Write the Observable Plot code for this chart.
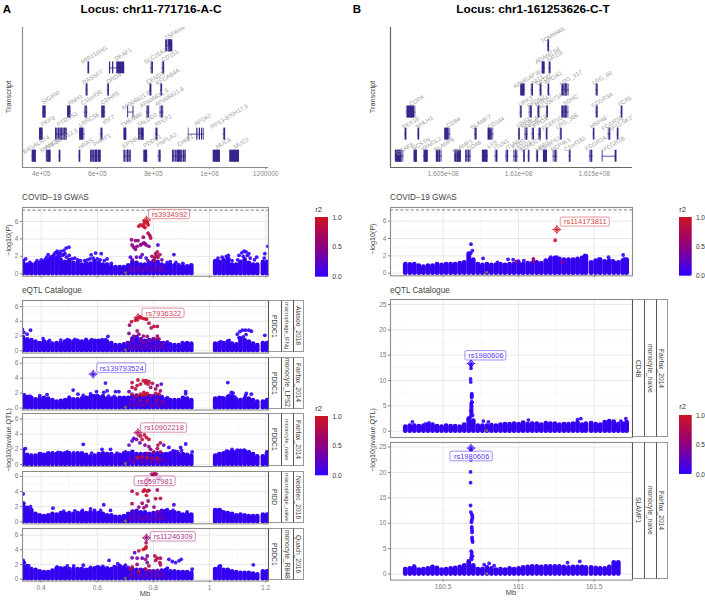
<!DOCTYPE html>
<html><head><meta charset="utf-8">
<script src="https://cdn.jsdelivr.net/npm/d3@7"></script>
<script src="https://cdn.jsdelivr.net/npm/@observablehq/plot@0.6"></script>
<style>
html,body{margin:0;padding:0;background:#fff}
#c{position:relative;width:705px;height:600px;overflow:hidden;font-family:"Liberation Sans",Arial,sans-serif}
#c svg{position:absolute;background:transparent;overflow:visible;max-width:none}
.t{position:absolute;white-space:nowrap;line-height:1.1}
.s{position:absolute;box-sizing:border-box;border-left:1.2px solid #555;border-top:1.2px solid #999;border-bottom:1.2px solid #999;display:flex;align-items:center;justify-content:center;overflow:hidden;color:#444;font-size:6.7px}
.s span{writing-mode:vertical-rl;white-space:nowrap}
</style></head><body><div id="c"></div>
<script>
// ---------- transcripts: [name,row,start,end,labelX,labelRow] ----------
const genesA=[["B4GALNT4",1,368,383,382,1.53],["ANO9",1,418,436,439,1.56],["RP13-317D12.3",1,463,469,463,1.71],["HRAS",1,534,540,559,1.56],["PHRF1",1,576,614,617,1.74],["EPS8L2",1,695,721,724,1.68],["PDDC1",1,766,780,796,1.69],["PNPLA2",1,817,828,846,1.74],["CHID1",1,868,916,914,1.71],["MUC6",1,1013,1039,1049,1.59],["MUC2",1,1072,1106,1113,1.59],
["PKP3",2,394,407,424,2.59],["PTDSS2",2,451,493,493,2.69],["LRRC56",2,537,556,570,2.65],["IRF7",2,611,620,640,2.65],["TMEM80",2,695,705,721,2.65],["TALDO1",2,747,767,778,2.65],["RPLP2",2,807,816,835,2.62],["AP2A2",2,925,980,975,2.65],["RP13-870H17.3",2,1049,1057,1070,2.8],
["SIGIRR",3,406,419,434,3.66],["RNH1",3,494,506,521,3.55],["C11orf35",3,554,566,579,3.66],["CDHR5",3,616,630,645,3.64],["AP006621.9",3,709,730,737,3.52],["AP006621.5",3,775,787,802,3.63],["AP006621.6",3,823,837,857,3.7],
["RASSF7",4,559,566,583,4.58],["DRD4",4,636,642,659,4.53],["CEND1",4,786,794,806,4.55],["EFCAB4A",4,825,832,851,4.6],
["MIR210HG",5,566,571,589,5.59],["DEAF1",5,644,698,692,5.61],["SLC25A22",5,791,800,812,5.58],["CD151",5,831,840,859,5.55],["TSPAN4",6,843,869,876,6.59]];
const intronGenesA=["AP2A2","AP006621.9","DEAF1"];
const exonsA=[[1,369,382],[1,421,425],[1,430,434],[1,577,581],[1,585,589],[1,593,600],[1,604,613],[1,696,699],[1,708,711],[1,717,720],[1,767,778],[1,869,873],[1,880,883],[1,887,893],[1,898,902],[1,908,911],[1,914,916],[1,1014,1038],[1,1073,1106],[2,395,406],[2,452,456],[2,462,466],[2,472,476],[2,482,486],[2,489,492],[2,538,548],[2,696,704],[2,748,752],[2,758,766],[2,925,926],[2,955,958],[2,964,967],[2,972,974],[2,978,980],[3,407,411],[3,495,505],[3,617,622],[3,709,711],[3,728,730],[5,644,647],[5,655,658],[5,670,697],[6,845,849],[6,855,868]];
const genesB=[["DCAF8",1,160.184,160.242,160.246,1.33],["NCSTN",1,160.308,160.33,160.354,1.56],["VANGL2",1,160.37,160.403,160.42,1.56],["SLAMF8",1,160.454,160.496,160.507,1.53],["SLAMF1",1,160.577,160.621,160.628,1.45],["CD48",1,160.65,160.688,160.705,1.48],["LY9",1,160.76,160.8,160.824,1.54],["ITLN1",1,160.844,160.864,160.886,1.54],["ITLN2",1,160.915,160.935,160.961,1.53],["F11R",1,160.966,160.997,160.997,1.56],["TSTD1",1,161.032,161.041,161.028,1.45],["KLHDC9",1,161.063,161.072,161.081,1.53],["UFC1",1,161.118,161.131,161.158,1.45],["NDUFS2",1,161.164,161.191,161.206,1.56],["PCP4L1",1,161.228,161.259,161.279,1.53],["C1orf192",1,161.334,161.345,161.372,1.56],["FCGR2A",1,161.469,161.493,161.511,1.59],["FCGR2B",1,161.555,161.65,161.632,1.56],
["PEX19",2,160.246,160.259,160.286,2.51],["NHLH1",2,160.332,160.343,160.376,2.54],["CD84",2,160.511,160.551,160.568,2.54],["SLAMF7",2,160.708,160.725,160.749,2.54],["CD244",2,160.798,160.836,160.851,2.51],["USF1",2,160.999,161.008,161.032,2.54],["PVRL4",2,161.041,161.063,161.07,2.54],["B4GALT3",2,161.089,161.105,161.109,2.54],["PPOX",2,161.131,161.151,161.147,2.54],["FCER1G",2,161.182,161.191,161.224,2.51],["LRG_356",2,161.275,161.286,161.319,2.59],["HSPA6",2,161.493,161.502,161.529,2.54],["FCGR2C",2,161.593,161.61,161.621,2.51],["RP11-5K23.11",2,161.652,161.661,161.703,2.59],
["COPA",3,160.257,160.321,160.326,3.52],["URK1",3,161.01,161.021,161.047,3.49],["PFDN2",3,161.07,161.092,161.116,3.48],["HSPA7",3,161.125,161.14,161.164,3.52],["AL590714.1",3,161.184,161.195,161.224,3.55],["SDHC",3,161.284,161.334,161.345,3.55],["FCGR3A",3,161.511,161.526,161.553,3.55],["FCRLA",3,161.677,161.688,161.716,3.55],
["ARHGAP30",4,161.014,161.045,161.058,4.5],["NIT1",4,161.083,161.098,161.125,4.46],["DEDD",4,161.14,161.153,161.164,4.46],["APOA2",4,161.193,161.204,161.228,4.55],["LRG_317",4,161.284,161.337,161.345,4.55],["LRG_60",4,161.511,161.526,161.553,4.55],
["ADAMTS4",5,161.156,161.176,161.191,5.56],["NR1I3",5,161.2,161.213,161.239,5.53],["TOMM40L",6,161.191,161.204,161.228,6.5]];
const intronGenesB=["FCGR2B"];
const exonsB=[[1,160.186,160.226],[1,160.31,160.328],[1,160.378,160.4],[1,160.458,160.47],[1,160.58,160.59],[1,160.595,160.605],[1,160.61,160.62],[1,160.652,160.658],[1,160.762,160.795],[1,161.166,161.19],[1,161.555,161.558],[1,161.64,161.65],[2,160.513,160.53],[2,160.8,160.815],[3,160.265,160.31],[3,161.29,161.3],[3,161.31,161.32],[4,161.016,161.04],[4,161.29,161.3],[4,161.31,161.32],[5,161.158,161.172]];

// ---------- dense lower band of the Manhattan plots: x positions and tops ----------
const bandXA=[.335,.35,.365,.38,.395,.41,.425,.44,.455,.47,.485,.5,.515,.53,.545,.56,.575,.59,.605,.62,.635,.65,.665,.68,.695,.71,.725,.74,.755,.77,.785,.8,.815,.83,.845,.86,.875,.89,.905,.92,.935,1.02,1.035,1.05,1.065,1.08,1.095,1.11,1.125,1.14,1.155,1.17,1.19,1.205];
const bandGwasA=[1.4,1,1,1.1,1.2,1.3,1.4,1.6,1.6,1.5,1.3,1.5,1.2,1.2,1,1.1,1.1,1.4,1.2,1,1,.8,.7,.7,.7,.9,1.3,1.2,1,1,1.2,1.4,1.3,1,.9,1,.9,.9,.8,.8,.9,1.4,1.3,1.5,1.6,1,1,1.3,1.6,1.2,1,1,1.3,1.3];
const bandAlasoo=[1.8,1.5,1.4,1.2,1,1.2,1.1,.9,1,1,1.2,1.3,1.2,1.3,1.2,1.3,1.2,1.3,1.3,1.3,1.2,1,.7,.7,.8,1,1.6,1.8,1.5,1.3,1.4,1.5,1.4,1,.9,.8,.7,.7,.9,1,.9,.9,1,1,1.2,.9,.8,1.6,1.4,1.2,.9,.7,1,1];
const bandLps=[1.6,1.4,1.3,1.1,1.2,1.3,1.2,1,.8,.9,1,1.2,1.1,1.1,1.2,1.3,1.4,1.5,1.4,1.5,1.2,1.2,1.2,1.3,1.3,1.3,1.5,1.6,1.4,1.5,1.5,1.5,1.5,1.4,1.1,1,1,1,1.3,1.2,1,1.2,1.3,1.2,1.4,1.5,1.1,1,1.2,1.2,1,.8,.8,1];
const bandNaive=[1.7,1.2,1.1,1.1,1.3,1.2,1.4,1.4,1.3,1.4,1.4,1.4,1.2,1.4,1.4,1.2,1,1.1,1.3,1.4,1.3,1.3,1.1,1.2,1.4,1.4,1.6,1.3,1.3,1.3,1.3,1.4,1.4,1.3,1.3,1.4,1.6,1.3,1.3,1.2,1.1,1.1,1.3,1.4,1.6,1.6,1.6,1.7,1.7,1.5,1.3,1,1,1.5];
const bandNedelec=[2.3,1.8,1.5,1,.8,.7,.8,1,.9,1.1,1,1.1,1,1.1,1.2,1.1,1.2,1.2,1.1,1,.8,.8,.6,.6,.7,1,1.3,1.4,1.2,1.2,1,1.1,1.2,1.4,1.4,1.2,1.2,1.1,.9,1,.9,1.5,1.5,1.2,1.1,1,.8,.9,.8,.7,.7,.7,.9,.9];
const bandQuach=[2.2,1.7,1.3,1.2,1,.9,.9,1.1,1.4,1.4,1.4,1.3,1.3,1.3,1.3,1.2,1.3,1.4,1.5,1.4,1.4,1.3,1.5,1.7,1.5,1.3,1.3,1.2,1.2,1.2,1,1,1,1.1,1.2,1,1,.9,.9,.9,.8,1.3,1.6,1.2,1.2,1,.9,.8,.8,.8,.7,.6,1,1];
const bandXB=[160.25,160.28,160.31,160.34,160.37,160.4,160.43,160.46,160.49,160.52,160.55,160.58,160.61,160.64,160.67,160.7,160.73,160.76,160.79,160.82,160.85,160.88,160.91,160.94,160.97,161,161.03,161.06,161.09,161.12,161.15,161.18,161.21,161.24,161.27,161.3,161.33,161.36,161.39,161.42,161.445,161.48,161.51,161.54,161.57,161.6,161.63,161.66,161.69,161.715];
const bandGwasB=[1,.95,1,.8,.7,.8,.8,1,.9,1,1,1,1.1,1.2,2.2,1.5,1,.9,1,.9,.9,1,.9,1,1,1.1,1,1.1,1.1,1.2,1.1,1.4,1.6,1.7,1.6,1.5,1.5,1.5,1.6,1.7,1.9,1.2,1.4,1.5,1.3,1.4,1.2,1.2,1.4,1.5];
const bandCd48=[.8,1,1,.9,1,1.1,1.2,.9,.8,1,.9,.9,.8,1.2,2.4,2,1,1,1,1.1,1,1.2,1.3,1.3,1.4,1.3,1.6,1.3,1.4,1.4,1.2,1.5,1.4,1.4,1.2,1.3,1.3,1.4,1.6,1.2,1.4,1.5,1.3,1.2,1.7,1.9,1.8,1.3,1.4,1.7];
const bandSlamf1=[.9,1,1.2,.8,.9,1,1.3,1.1,.8,.9,1,1.1,1.3,1.6,2.4,1.6,.9,.9,1.2,1,.8,.9,.8,1,.9,1,1.2,1.3,1.4,1.4,1.3,1.4,1.4,1.4,1.4,1.3,1.2,1.3,1.3,1.3,1.2,1.2,1.1,1,1,1.3,2.2,2.2,null,null];

// ---------- individually visible points: [x, -log10 p, r2] ----------
const midTintA=[[.715,.5,.3],[.73,.3,.4],[.745,.6,.35],[.76,.35,.4],[.775,.55,.35],[.79,.3,.4],[.805,.55,.35],[.82,.35,.4],[.835,.5,.3],[.72,.8,.3],[.75,.85,.3],[.78,.85,.3],[.81,.85,.35],[.83,.8,.3],[.7,.3,.2],[.85,.3,.2]];
const ptsGwasA=[[.748,5.46,.95],[.754,5.6,.95],[.766,5.7,.95],[.768,6,.95],[.778,5.85,.95],[.764,5.45,.95],[.781,5.6,.95],[.77,5.3,.95],[.781,4.65,.75],[.787,4.4,.7],[.79,4.1,.7],[.764,4.2,.5],[.722,3.9,.5],[.736,3.8,.5],[.745,3.8,.5],[.754,3.3,.45],[.766,3.55,.45],[.774,3.3,.45],[.784,3.15,.45],[.742,3.15,.5],[.73,3.05,.45],[.724,3.3,.45],[.736,2.8,.45],[.758,3.4,.45],[.77,3.45,.45],[.816,3.3,.1],[.808,2.3,.7],[.814,2.5,.75],[.823,2.2,.7],[.804,1.8,.75],[.816,1.9,.7],[.802,1.5,.7],[.81,2.05,.75],[.499,3.05,0],[.489,2.95,0],[.481,2.67,0],[.457,2.6,0],[.467,2.3,0],[.445,2.17,0],[.433,1.9,0],[.415,1.65,0],[.475,2.1,0],[.47,2.55,0],[.45,2.4,0],[.46,2,0],[.578,2.17,0],[.594,2.37,0],[.614,2.3,0],[.574,1.7,0],[.635,1.7,0],[.718,1.9,.1],[.754,1.9,.1],[.774,1.8,.1],[.873,2.2,0],[.849,1.3,0],[1.027,1.5,0],[1.067,2.1,0],[1.069,1.7,0],[1.123,2.6,0],[1.14,2.3,0],[1.105,2.1,0],[1.115,2.4,0],[1.13,2.5,0],[1.168,1.9,0],[1.197,2.3,0],[1.208,3.15,0],
[.345,1.7,0],[.36,1.3,0],[.385,1.5,0],[.4,1.6,0],[.405,1.3,0],[.42,1.9,0],[.425,2.2,0],[.43,1.7,0],[.44,2,0],[.45,1.9,0],[.455,2.4,0],[.46,2.3,0],[.465,1.9,0],[.48,2.2,0],[.485,2.3,0],[.49,1.9,0],[.5,2.1,0],[.51,1.7,0],[.52,1.8,0],[.53,1.6,0],[.54,1.5,0],[.555,1.5,0],[.565,1.6,0],[.585,1.8,0],[.6,1.7,0],[.61,1.6,0],[.625,1.5,0],[.65,1.2,0],[.86,1.4,0],[.88,1.3,0],[.905,1.2,0],[1.03,1.8,0],[1.045,1.9,0],[1.06,2,0],[1.08,1.5,0],[1.1,1.6,0],[1.12,2,0],[1.135,2.1,0],[1.145,1.8,0],[1.16,1.6,0],[1.195,1.8,0],[.725,1.6,.25],[.74,1.9,.3],[.76,2.2,.3],[.78,1.5,.35],[.795,2,.55],[.83,1.6,.3]];
const ptsAlasoo=[[.752,4.6,.95],[.76,4.45,.95],[.768,4.35,.95],[.775,4.28,.95],[.74,4.3,.95],[.722,3.95,.9],[.736,4.15,.9],[.784,3.75,.85],[.792,3.1,.8],[.802,3.3,.8],[.814,3.3,.8],[.715,3.47,.6],[.742,2.7,.55],[.748,2.25,.6],[.73,2,.5],[.713,2.35,.4],[.764,2,.5],[.778,1.95,.6],[.814,2,.6],[.82,1.6,.7],[.802,1.65,.6],[.784,1.35,.5],[.754,1.5,.45],[.724,1.35,.35],[.707,1.1,.3],[.766,1.1,.4],[.837,1.1,.3],[.333,2.9,0],[.338,2.5,0],[.362,2.8,0],[.35,2.25,0],[.638,1.95,0],[1.108,2.6,0],[1.117,2.8,0],[1.128,2.8,0],[1.14,2.8,0],[1.149,2.65,0],[1.099,2.25,0],[1.105,1.8,0],[1.197,2.1,0],[.407,1.65,0],[.493,1.5,0],[.6,1.35,0],[.617,1.5,0],[.903,1.1,0],[.43,1.4,0],[.47,1.45,0],[.52,1.55,0],[.56,1.55,0],[.58,1.5,0],[.63,1.5,0],[.85,1.2,0],[1.04,1.25,0],[1.07,1.4,0],[1.12,1.9,0],[1.13,2.2,0]];
const ptsLps=[[.629,3.33,0],[.514,2.4,0],[.597,2.2,0],[.635,2.3,0],[.623,2.1,0],[.665,2.2,0],[.677,2.2,0],[.421,1.8,0],[.395,1.65,0],[.531,1.85,0],[.576,1.9,0],[.713,2.2,.2],[.915,2.2,0],[.915,1.9,0],[1.065,3.4,0],[1.078,2.1,0],[1.084,2,0],[1.07,1.7,0],[1.131,1.95,0],[1.149,1.85,0],[1.128,1.65,0],[.745,3.75,.85],[.764,3.65,.9],[.774,3.65,.9],[.784,3.55,.9],[.781,3.2,.9],[.772,3.35,.85],[.754,3.2,.85],[.742,3,.8],[.724,2.75,.75],[.736,2.55,.8],[.79,2.75,.6],[.814,3,.5],[.828,3.2,.2],[.808,2.55,.7],[.766,2.1,.85],[.778,1.95,.9],[.754,1.85,.9],[.742,1.65,.85],[.76,1.7,.9],[.772,1.75,.9],[.724,1.85,.8],[.808,1.95,.8],[.82,1.85,.7],[.79,1.65,.7],[.825,2.3,.55],[.796,3.3,.75],[.724,3.4,.8],[.73,1.2,.4],[.778,1,.5],[.814,1.1,.5],[.837,.9,.3],[.754,1,.45],[.55,1.7,0],[.58,1.65,0],[.6,1.7,0],[.64,1.6,0],[.66,1.55,0],[.34,1.75,0],[.36,1.6,0],[.5,1.45,0],[.85,1.4,0],[1.045,1.4,0],[1.09,1.5,0]];
const ptsNaive=[[.754,3.75,.85],[.768,3.9,.9],[.775,3.55,.9],[.784,3.3,.85],[.76,3.3,.85],[.74,3.3,.4],[.724,3.1,.2],[.73,3.45,.15],[.752,2.85,.3],[.77,2.55,.4],[.784,2.35,.5],[.825,2.85,.8],[.816,2.55,.8],[.837,2.55,.2],[.713,2.55,.3],[.814,2.1,.7],[.79,2,.45],[.802,1.65,.7],[.825,1.65,.6],[.778,1.45,.5],[.76,1,.9],[.742,.93,.85],[.778,.93,.85],[.796,.8,.6],[.814,.8,.7],[.55,2.65,0],[.617,2,0],[.647,2,0],[.344,2.1,0],[.338,2,0],[.516,1.55,0],[.493,1.65,0],[.398,1.4,0],[.855,2.25,0],[.897,2.25,0],[.915,2.7,0],[.938,1.65,0],[1.031,1.3,0],[1.08,2,0],[1.099,1.9,0],[1.123,1.9,0],[1.14,1.65,0],[1.205,1.65,0],[.87,1.8,0],[.885,1.7,.1],[.9,1.85,0],[.67,1.5,0],[.7,1.65,.1],[.46,1.6,0],[.58,1.5,0],[1.06,1.75,0],[1.11,1.85,0]];
const ptsNedelec=[[.796,6.2,.7],[.808,6.3,.65],[.814,5.7,.5],[.823,5.8,.3],[.778,5.7,.7],[.784,5.45,.8],[.775,4.95,.85],[.768,4.2,.95],[.778,4.05,.95],[.764,4.05,.95],[.724,4.05,.8],[.742,3.7,.8],[.775,3.5,.95],[.784,4.15,.7],[.814,4.2,.6],[.808,3.05,.85],[.825,3.1,.8],[.724,2.4,.7],[.76,2.45,.6],[.781,2.75,.55],[.748,1.95,.5],[.766,1.85,.6],[.775,2.1,.55],[.802,1.95,.5],[.873,2.25,.1],[.814,1.3,.4],[.825,1.35,.3],[.73,1.3,.3],[.336,3.7,0],[.338,2.45,0],[.34,1.95,0],[.362,2,0],[.623,2.25,0],[.612,1.5,0],[.442,1.8,0],[.576,1.7,0],[.547,1.5,0],[.647,1.5,0],[.92,1.3,0],[1.027,1.5,0],[1.039,1.5,0],[1.063,1.15,0],[.48,1.4,0],[.52,1.45,0],[.59,1.5,0],[.85,1.6,0],[.87,1.5,0]];
const ptsQuach=[[.774,4.95,.75],[.774,4.4,.95],[.772,4.2,.95],[.764,4.05,.95],[.748,3.85,.95],[.733,3.6,.2],[.724,2.9,.3],[.742,2.85,.4],[.76,2.85,.3],[.772,2.7,.55],[.778,2.25,.35],[.805,3.15,.8],[.814,2.85,.8],[.825,2.85,.7],[.808,2.55,.7],[.823,2.25,.8],[.825,1.95,.7],[.778,3.15,.3],[.742,2,.5],[.724,1.65,.8],[.718,1.35,.75],[.748,1.1,.85],[.772,1.35,.8],[.784,1.8,.75],[.79,1.1,.5],[.814,1.2,.4],[.855,2.7,.05],[.867,2.4,.05],[.879,2.25,.05],[.891,2.5,.05],[.899,2.7,.05],[.938,1.35,0],[.642,2.55,0],[.55,1.9,0],[.576,1.6,0],[.673,2.1,0],[.688,1.6,0],[1.039,1.8,0],[1.033,1.5,0],[1.156,1.95,0],[1.206,1.1,0],[.336,2.55,0],[.34,2.25,0],[.356,1.8,0],[.457,1.65,0],[.493,1.8,0],[.516,1.8,0],[.62,1.75,0],[.6,1.65,0],[.66,1.7,.05],[.7,1.9,.1],[.71,1.6,.15],[.85,1.5,0]];
const ptsGwasB=[[161.242,3.8,1],[160.685,3.35,0],[160.694,2.6,0],[160.683,2.3,0],[160.765,1.7,0],[160.964,1.55,0],[160.986,1.35,.55],[161.098,1.65,.55],[161.098,1.35,.5],[160.86,1.25,.1],[161.035,1.45,0],[161.213,1.85,0],[161.253,1.85,0],[161.29,1.3,.5],[161.438,2.05,0],[161.533,1.65,0],[161.595,1.85,0],[161.625,1.45,0],[161.692,2.1,0],[161.7,1.65,0],[160.93,1.6,0],[161.0,1.4,.1]];
const ptsCd48=[[160.685,13,0],[160.685,12.4,0],[160.682,10.3,0],[160.683,9.7,0],[160.69,7.4,0],[160.69,7.1,0],[160.69,6.9,0],[160.689,6.6,0],[160.69,5.8,0],[160.688,5.5,0],[160.692,5.7,0],[160.686,5.2,0],[160.69,4.9,0],[160.685,4.6,0],[160.69,4.3,0],[160.683,4,0],[160.69,3.7,0],[160.685,3.4,0],[160.695,3.1,0],[160.68,2.8,0],[160.297,1.85,0],[160.407,1.65,0],[160.385,1.45,0],[160.767,2,0],[160.8,1.85,0],[161.39,2.3,0],[161.412,2.5,0],[161.71,2.5,0],[161.677,2,0],[161.065,2.2,0]];
const ptsSlamf1=[[160.685,24.4,0],[160.685,22.5,0],[160.682,20.1,0],[160.682,18,0],[160.682,13.5,0],[160.684,12.2,0],[160.69,11.8,0],[160.694,11.4,0],[160.694,11,0],[160.69,10.6,0],[160.688,10.2,0],[160.69,9.3,0],[160.69,9,0],[160.692,8.6,0],[160.692,8.2,0],[160.692,7.2,0],[160.692,6.9,0],[160.694,6.6,0],[160.696,6.3,0],[160.686,4.5,0],[160.69,4.2,0],[160.688,3.8,0],[160.695,3.5,0],[160.685,3.2,0],[160.69,2.9,0],[160.805,2.1,0],[160.772,1.85,0],[160.838,1.65,0],[161.324,2.25,0],[161.405,2.5,0],[160.308,1.6,0],[160.43,1.45,0]];
// grey points without r2: [x,y]
const noR2A=[[.7,.12]], noR2B=[[160.789,.12]];

// ---------- lead variants and their labels ----------
const leadNames=["rs3934992","rs7936322","rs139793524","rs10902218","rs6597981","rs11246309","rs114173811","rs1980606","rs1980606"];
const leadX=[.775,.745,.585,.745,.802,.775,161.253,160.685,160.685];
const leadY=[6.15,4.5,4.53,4.19,6.34,5.63,5.04,13.35,24.8];
const leadR2=[.95,.9,.05,.7,.62,.55,1,0,0];
const boxX1=[.785,.761,.6,.756,.733,.79,161.279,160.648,160.549];
const boxX2=[.93,.911,.774,.92,.879,.951,161.604,160.919,160.829];
const boxY1=[6.26,4.46,4.67,4.19,4.71,5.13,5.38,13.95,22.2];
const boxY2=[7.33,5.72,5.96,5.42,5.99,6.4,6.42,15.8,24.1];

// ---------- ticks, strips, texts ----------
const xMajorA=[.4,.6,.8,1,1.2], xMinorA=[.5,.7,.9,1.1];
const xMajorB=[160.5,161,161.5], xMinorB=[160.25,160.75,161.25,161.75];
const yMajor6=[0,2,4,6], yMinor6=[1,3,5,7];
const yMajor25=[0,5,10,15,20,25], yMinor25=[2.5,7.5,12.5,17.5,22.5];
const transcriptTicksA=[400,600,800,1000,1200], transcriptLabelsA=["4e+05","6e+05","8e+05","1e+06","1200000"];
const transcriptTicksB=[160.5,161,161.5], transcriptLabelsB=["1.605e+08","1.61e+08","1.615e+08"];
const stripA=[["PDDC1","macrophage_IFNg","Alasoo_2018"],["PDDC1","monocyte_LPS2","Fairfax_2014"],["PDDC1","monocyte_naive","Fairfax_2014"],["PIDD","macrophage_naive","Nedelec_2016"],["PDDC1","monocyte_R848","Quach_2016"]];
const stripB=[["CD48","monocyte_naive","Fairfax_2014"],["SLAMF1","monocyte_naive","Fairfax_2014"]];

const FONT='"Liberation Sans",Arial,sans-serif';
const BLUE="#3300f0", INK="#35278a";
const colorScale={type:"linear",domain:[0,.5,1],range:["#3300ff","#90007f","#cf1520"]};
const root=document.getElementById("c");

function addText(txt,x,y,o={}){
  const d=document.createElement("div");d.className="t";d.textContent=txt;
  d.style.left=x+"px";d.style.top=y+"px";d.style.fontSize=(o.size||8)+"px";d.style.color=o.color||"#333";
  if(o.weight)d.style.fontWeight=o.weight;
  let tr="translate(-50%,-50%)";
  if(o.left)tr="translate(0,-50%)";
  if(o.rot)tr+=` rotate(${o.rot}deg)`;
  d.style.transform=tr;root.appendChild(d);
}
function place(svg,l,t){svg.style.left=l+"px";svg.style.top=t+"px";root.appendChild(svg);}

function manhattan(o){
  const mt=4,mb=14,ml=22;
  const idx=o.lead;
  const lead=[{x:leadX[idx],y:leadY[idx],r:leadR2[idx]}];
  const box=[{x1:boxX1[idx],x2:boxX2[idx],y1:boxY1[idx],y2:boxY2[idx],r:leadR2[idx],n:leadNames[idx]}];
  const band=o.bandX.map((x,i)=>[x,o.band[i]]).filter(d=>d[1]!=null);
  const svg=Plot.plot({
    width:o.right-o.left+ml,height:o.bottom-o.top+mt+mb,
    marginLeft:ml,marginRight:0,marginTop:mt,marginBottom:mb,
    style:{fontFamily:FONT,background:"transparent",overflow:"visible"},
    x:{domain:o.xDomain,axis:null},y:{domain:o.yDomain,axis:null},
    color:colorScale,
    marks:[
      Plot.ruleX(o.xMinor.filter(v=>v>o.xDomain[0]&&v<o.xDomain[1]),{stroke:"#f4f4f4",strokeWidth:.6}),
      Plot.ruleY(o.yMinor.filter(v=>v<o.yDomain[1]),{stroke:"#f4f4f4",strokeWidth:.6}),
      Plot.ruleX(o.xMajor,{stroke:"#e8e8e8",strokeWidth:1}),
      Plot.ruleY(o.yMajor,{stroke:"#e8e8e8",strokeWidth:1}),
      o.dashed?Plot.ruleY([7.3],{stroke:"#555",strokeDasharray:"3,2.2",strokeWidth:.8}):null,
      Plot.ruleX(band,{x:d=>d[0],y1:0,y2:d=>d[1],stroke:BLUE,strokeWidth:o.bandW||4.6,strokeLinecap:"round",clip:true}),
      Plot.dot(o.tint||[],{x:d=>d[0],y:d=>d[1],fill:d=>d[2],r:1.9,fillOpacity:.65,clip:true}),
      Plot.dot(o.noR2||[],{x:d=>d[0],y:d=>d[1],fill:"#6f6f55",r:1.5,clip:true}),
      Plot.dot(o.pts,{x:d=>d[0],y:d=>d[1],fill:d=>d[2],r:1.9,fillOpacity:.9,clip:true}),
      Plot.dot(lead,{x:"x",y:"y",fill:"r",r:2,fillOpacity:.7,clip:true}),
      Plot.dot(lead,{x:"x",y:"y",stroke:"r",symbol:"diamond2",r:3.2,strokeWidth:.8,clip:true}),
      Plot.dot(lead,{x:"x",y:"y",stroke:"r",symbol:"plus",r:3,strokeWidth:.7,clip:true}),
      Plot.rect(box,{x1:"x1",x2:"x2",y1:"y1",y2:"y2",fill:"#fff",fillOpacity:.72,stroke:"r",strokeOpacity:.65,strokeWidth:.7,rx:1.5}),
      Plot.text(box,{x:d=>(d.x1+d.x2)/2,y:d=>(d.y1+d.y2)/2,text:"n",fill:"r",fillOpacity:.85,fontSize:7.5}),
      Plot.axisY({anchor:"left",ticks:o.yMajor,tickSize:2,tickPadding:2,fontSize:6.6,color:"#7c7c7c",label:null,tickFormat:d=>String(d)}),
      o.xTicks?Plot.axisX({anchor:"bottom",ticks:o.xMajor,tickSize:2,tickPadding:2,fontSize:o.xLabels?6.6:0,color:"#7c7c7c",label:null,tickFormat:o.xLabels?(d=>String(d)):(()=>"")}):null,
      Plot.frame({stroke:"#8c8c8c",strokeWidth:1.1})
    ]
  });
  place(svg,o.left-ml,o.top-mt);
}
function strips(labels,x,top,bottom){
  labels.forEach((txt,i)=>{
    const d=document.createElement("div");d.className="s";
    d.style.left=x[i]+"px";d.style.width=(x[i+1]-x[i])+"px";d.style.top=top+"px";d.style.height=(bottom-top)+"px";
    if(i==2)d.style.borderRight="1.2px solid #999";
    if(txt.length>13&&bottom-top<60)d.style.fontSize="5.7px";
    const s=document.createElement("span");s.textContent=txt;d.appendChild(s);root.appendChild(d);
  });
}
function transcripts(o){
  const ml=22,mt=2,mb=16;
  const G=o.genes.map(g=>({name:g[0],row:g[1],s:g[2],e:g[3],lx:g[4],ly:g[5]}));
  const plain=G.filter(g=>!o.intron.includes(g.name));
  const H=.27;
  const svg=Plot.plot({
    width:o.right-o.left+ml,height:167-27+mt+mb,marginLeft:ml,marginRight:0,marginTop:mt,marginBottom:mb,
    style:{fontFamily:FONT,background:"transparent",overflow:"visible"},
    x:{domain:o.xDomain,axis:null},y:{domain:[.488,6.83],axis:null},
    marks:[
      Plot.ruleY(G,{x1:"s",x2:"e",y:"row",stroke:INK,strokeWidth:.8}),
      Plot.rect(plain,{x1:"s",x2:"e",y1:d=>d.row-H,y2:d=>d.row+H,fill:INK,fillOpacity:.5}),
      Plot.ruleX(plain,{x:d=>(d.s+d.e)/2,y1:d=>d.row-H,y2:d=>d.row+H,stroke:INK,strokeWidth:1.4}),
      Plot.rect(o.exons,{x1:d=>d[1],x2:d=>d[2],y1:d=>d[0]-H,y2:d=>d[0]+H,fill:INK,insetLeft:-.2,insetRight:-.2}),
      Plot.text(G,{x:"lx",y:"ly",text:"name",rotate:-31,fontSize:5.9,fill:"#9c9c9c",clip:true}),
      Plot.ruleX([o.xDomain[0]],{stroke:o.axisColor,strokeWidth:1.2}),
      Plot.ruleY([.488],{stroke:o.axisColor,strokeWidth:1.2}),
      Plot.axisX({anchor:"bottom",ticks:o.ticks,tickSize:2,tickPadding:2,fontSize:6.6,color:"#8a8a8a",label:null,
        tickFormat:d=>o.labels[o.ticks.indexOf(d)]})
    ]
  });
  place(svg,o.left-ml,27-mt);
}
function colorbar(x,top,bottom,yTitle){
  const ramp=d3.range(0,1,.02);
  const mt=5,mb=5,w=x[1]-x[0];
  const svg=Plot.plot({
    width:w+20,height:bottom-top+mt+mb,marginLeft:0,marginRight:20,marginTop:mt,marginBottom:mb,
    style:{fontFamily:FONT,background:"transparent",overflow:"visible"},
    x:{domain:[0,1],axis:null},y:{domain:[0,1],axis:null},color:colorScale,
    marks:[
      Plot.rect(ramp,{x1:()=>0,x2:()=>1,y1:d=>d,y2:d=>Math.min(1,d+.05),fill:d=>d}),
      Plot.axisY({anchor:"right",ticks:[0,.5,1],tickSize:0,tickPadding:4,tickFormat:d=>d.toFixed(1),fontSize:6.5,color:"#333",label:null})
    ]
  });
  place(svg,x[0],top-mt);
  addText("r2",x[0],yTitle,{size:7.6,left:true,color:"#333"});
}

// ---------- headers ----------
addText("A",7,9,{size:11.5,weight:"bold",color:"#000"});
addText("Locus: chr11-771716-A-C",151,8.5,{size:11.8,weight:"bold",color:"#000"});
addText("B",357,9,{size:11.5,weight:"bold",color:"#000"});
addText("Locus: chr1-161253626-C-T",533,8.5,{size:11.8,weight:"bold",color:"#000"});
addText("Transcript",9,97,{size:7.4,rot:-90,color:"#444"});
addText("Transcript",373,97,{size:7.4,rot:-90,color:"#444"});
addText("COVID\u221219 GWAS",22,198,{size:8.2,left:true,color:"#444"});
addText("eQTL Catalogue",22,291,{size:8.2,left:true,color:"#444"});
addText("COVID\u221219 GWAS",390,198,{size:8.2,left:true,color:"#444"});
addText("eQTL Catalogue",390,291,{size:8.2,left:true,color:"#444"});
addText("\u2212log10(P)",9,240,{size:7.2,rot:-90,color:"#444"});
addText("\u2212log10(P)",373,239,{size:7.2,rot:-90,color:"#444"});
addText("\u2212log10(pvalue.QTL)",9,440,{size:7.2,rot:-90,color:"#444"});
addText("\u2212log10(pvalue.QTL)",373,440,{size:7.2,rot:-90,color:"#444"});
addText("Mb",145,594,{size:7.4,color:"#444"});
addText("Mb",511,593,{size:7.4,color:"#444"});

// ---------- panels ----------
const domA=[.3335,1.21], domB=[160.152,161.754];
const xa={left:22,right:268,xDomain:domA,xMajor:xMajorA,xMinor:xMinorA,bandX:bandXA,yMajor:yMajor6,yMinor:yMinor6,tint:midTintA,noR2:noR2A};
const xb={left:389.7,right:631.7,xDomain:domB,xMajor:xMajorB,xMinor:xMinorB,bandX:bandXB,noR2:noR2B,bandW:4.8};
transcripts({left:22,right:268,xDomain:[333.5,1210],genes:genesA,intron:intronGenesA,exons:exonsA,ticks:transcriptTicksA,labels:transcriptLabelsA,axisColor:"#8a8a8a"});
transcripts({left:389.7,right:631.7,xDomain:[160.152,161.754],genes:genesB,intron:intronGenesB,exons:exonsB,ticks:transcriptTicksB,labels:transcriptLabelsB,axisColor:"#666"});

manhattan({...xa,top:207,bottom:275.7,yDomain:[-.28,7.6],band:bandGwasA,pts:ptsGwasA,lead:0,dashed:true,xTicks:true});
manhattan({...xa,top:299.7,bottom:352.3,yDomain:[-.31,6.82],band:bandAlasoo,pts:ptsAlasoo,lead:1});
manhattan({...xa,top:356.7,bottom:409.3,yDomain:[-.27,6.75],band:bandLps,pts:ptsLps,lead:2});
manhattan({...xa,top:413.3,bottom:466.3,yDomain:[-.27,6.72],band:bandNaive,pts:ptsNaive,lead:3});
manhattan({...xa,top:471,bottom:523.3,yDomain:[-.26,6.64],band:bandNedelec,pts:ptsNedelec,lead:4});
manhattan({...xa,top:527.7,bottom:580.3,yDomain:[-.27,6.9],band:bandQuach,pts:ptsQuach,lead:5,xTicks:true,xLabels:true});
const sxA=[268,280.5,292.5,304];
[[299.7,352.3],[356.7,409.3],[413.3,466.3],[471,523.3],[527.7,580.3]].forEach((p,i)=>strips(stripA[i],sxA,p[0],p[1]));

manhattan({...xb,top:207,bottom:275.3,yDomain:[-.3,7.58],yMajor:yMajor6,yMinor:yMinor6,band:bandGwasB,pts:ptsGwasB,lead:6,dashed:true,xTicks:true});
manhattan({...xb,top:299.3,bottom:437.3,yDomain:[-1.24,25.98],yMajor:yMajor25,yMinor:yMinor25,band:bandCd48,pts:ptsCd48,lead:7});
manhattan({...xb,top:441.7,bottom:579.3,yDomain:[-1.18,25.9],yMajor:yMajor25,yMinor:yMinor25,band:bandSlamf1,pts:ptsSlamf1,lead:8,xTicks:true,xLabels:true});
const sxB=[631.7,644.3,656.3,667.7];
strips(stripB[0],sxB,299.3,437.3);strips(stripB[1],sxB,441.7,579.3);

colorbar([315.3,328.3],217,276.7,210);
colorbar([315.3,328.3],415.7,475,409);
colorbar([679.3,691.7],217,275.7,210);
colorbar([679.3,691.7],415,474,407);
</script></body></html>
